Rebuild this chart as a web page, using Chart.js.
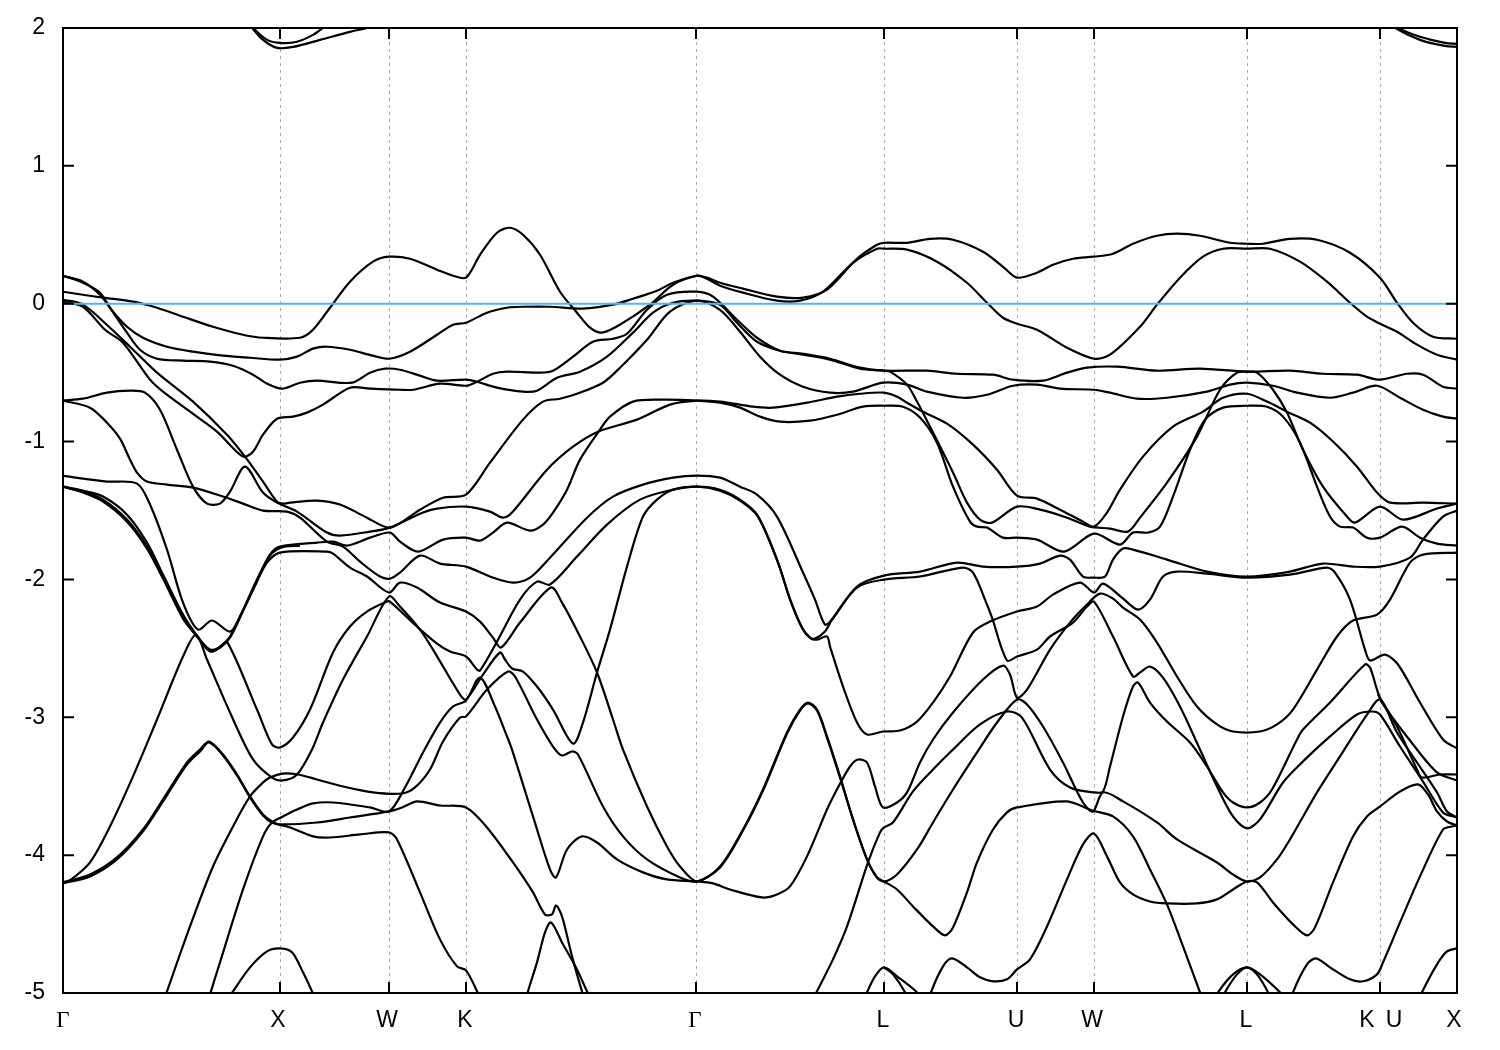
<!DOCTYPE html>
<html>
<head>
<meta charset="utf-8">
<title>Band structure</title>
<script src="https://cdn.jsdelivr.net/npm/chart.js@4"></script>
<style>
  html, body { margin: 0; padding: 0; background: #fff; }
  canvas { display: block; }
</style>
</head>
<body>
<canvas id="bands" width="1500" height="1050"></canvas>
<script>
// k-path in arbitrary distance units, energies in eV
const pathLength = 1394;
const symmetryPoints = [217, 326, 403, 633, 821, 954, 1031, 1184, 1317];
const labelPositions = [0, 215, 324, 402, 632, 820, 953, 1029, 1183, 1304, 1331, 1391];
const labelNames = ['Γ', 'X', 'W', 'K', 'Γ', 'L', 'U', 'W', 'L', 'K', 'U', 'X'];
const fermiLine = [[0, 0], [1394, 0]];

const band01 = [[0,.087],[20,.065],[40,.044],[70,.015],[94,-.029],[120,-.094],[150,-.167],[180,-.225],[200,-.247],[237,-.247],[250,-.189],[267,-.029],[287,.16],[310,.305],[326,.341],[347,.326],[374,.247],[390,.203],[403,.189],[417,.355],[434,.515],[447,.551],[460,.5],[477,.355],[497,.087],[514,-.065],[527,-.174],[539,-.21],[557,-.152],[587,-.007],[610,.138],[634,.203],[644,.189],[657,.152],[680,.109],[714,.051],[740,.044],[764,.102],[794,.326],[814,.428],[821,.442],[844,.442],[867,.471],[890,.464],[920,.377],[940,.268],[954,.189],[974,.225],[990,.283],[1010,.326],[1031,.341],[1050,.363],[1070,.435],[1094,.493],[1114,.508],[1137,.493],[1167,.442],[1184,.435],[1200,.435],[1227,.471],[1254,.464],[1287,.370],[1317,.189],[1334,.007],[1350,-.138],[1370,-.239],[1394,-.254]];
const band02 = [[0,.203],[20,.16],[37,.065],[50,-.058],[64,-.167],[80,-.247],[104,-.312],[130,-.348],[160,-.377],[187,-.392],[217,-.406],[234,-.384],[250,-.326],[264,-.312],[287,-.334],[310,-.377],[326,-.399],[347,-.348],[374,-.225],[390,-.152],[403,-.138],[424,-.065],[444,-.029],[460,-.022],[487,-.022],[520,-.036],[550,-.007],[570,.036],[594,.094],[610,.152],[634,.203],[644,.181],[657,.131],[680,.08],[714,.022],[737,.022],[760,.087],[790,.297],[814,.399],[821,.399],[844,.392],[874,.305],[904,.152],[924,.007],[940,-.102],[954,-.145],[974,-.189],[1004,-.319],[1031,-.399],[1047,-.37],[1077,-.167],[1094,-.007],[1117,.189],[1140,.341],[1160,.399],[1184,.399],[1207,.399],[1237,.305],[1264,.16],[1287,.007],[1304,-.094],[1317,-.145],[1334,-.203],[1354,-.297],[1374,-.37],[1394,-.406]];
const band03 = [[0,.203],[20,.152],[37,.08],[47,-.029],[64,-.21],[77,-.334],[94,-.399],[120,-.413],[147,-.42],[170,-.45],[190,-.515],[204,-.58],[219,-.616],[237,-.573],[254,-.558],[289,-.573],[307,-.5],[322,-.471],[337,-.479],[357,-.522],[374,-.558],[403,-.551],[414,-.566],[434,-.609],[460,-.638],[474,-.631],[494,-.537],[517,-.493],[544,-.384],[570,-.21],[590,-.065],[610,.007],[634,.022],[657,-.007],[674,-.138],[694,-.276],[717,-.341],[740,-.37],[767,-.406],[797,-.471],[821,-.486],[827,-.493],[844,-.587],[854,-.71],[870,-.935],[890,-1.225],[904,-1.443],[917,-1.566],[929,-1.588],[954,-1.472],[977,-1.494],[1004,-1.552],[1027,-1.617],[1047,-1.631],[1065,-1.653],[1077,-1.552],[1104,-1.298],[1134,-.964],[1157,-.624],[1174,-.5],[1184,-.493],[1194,-.5],[1210,-.624],[1224,-.79],[1240,-1.059],[1260,-1.327],[1284,-1.544],[1292,-1.588],[1317,-1.472],[1340,-1.566],[1374,-1.486],[1394,-1.45]];
const band04 = [[0,.015],[20,-.022],[42,-.189],[60,-.283],[87,-.551],[100,-.638],[127,-.783],[154,-.928],[180,-1.109],[190,-1.073],[200,-.95],[214,-.834],[230,-.819],[244,-.79],[260,-.732],[287,-.609],[307,-.616],[337,-.624],[350,-.624],[377,-.58],[403,-.595],[414,-.566],[430,-.508],[444,-.493],[477,-.5],[490,-.486],[510,-.384],[530,-.276],[550,-.254],[564,-.218],[584,-.044],[604,.065],[634,.087],[650,.051],[674,-.116],[694,-.247],[717,-.341],[740,-.363],[767,-.399],[797,-.464],[821,-.486],[864,-.486],[894,-.508],[930,-.515],[950,-.551],[980,-.558],[1004,-.5],[1024,-.464],[1054,-.457],[1094,-.486],[1137,-.471],[1184,-.493],[1227,-.486],[1260,-.508],[1294,-.515],[1317,-.551],[1344,-.508],[1360,-.515],[1380,-.602],[1394,-.616]];
const band05 = [[0,.029],[20,-.007],[47,-.174],[67,-.312],[94,-.5],[130,-.71],[164,-.95],[182,-1.109],[200,-1.29],[214,-1.436],[220,-1.45],[227,-1.443],[254,-1.428],[277,-1.457],[304,-1.552],[327,-1.624],[357,-1.494],[380,-1.407],[403,-1.385],[427,-1.153],[460,-.841],[480,-.71],[497,-.689],[514,-.653],[540,-.573],[557,-.464],[584,-.261],[607,-.058],[634,.022],[657,-.044],[677,-.203],[697,-.384],[717,-.515],[740,-.602],[767,-.645],[790,-.638],[820,-.573],[844,-.587],[864,-.638],[900,-.682],[924,-.66],[950,-.595],[974,-.587],[997,-.616],[1031,-.624],[1047,-.645],[1074,-.689],[1104,-.682],[1144,-.638],[1167,-.587],[1184,-.573],[1210,-.595],[1234,-.645],[1267,-.682],[1290,-.645],[1314,-.595],[1337,-.682],[1360,-.769],[1380,-.819],[1394,-.834]];
const band06 = [[0,-.703],[20,-.689],[44,-.645],[67,-.631],[82,-.645],[97,-.769],[114,-1.059],[130,-1.327],[144,-1.45],[157,-1.45],[167,-1.363],[182,-1.182],[200,-1.37],[214,-1.443],[234,-1.508],[264,-1.66],[277,-1.682],[307,-1.653],[327,-1.624],[357,-1.523],[374,-1.486],[403,-1.472],[427,-1.508],[440,-1.552],[449,-1.515],[484,-1.204],[510,-1.037],[535,-.928],[574,-.841],[607,-.732],[634,-.703],[657,-.71],[690,-.747],[710,-.754],[744,-.718],[774,-.674],[797,-.653],[821,-.645],[834,-.674],[844,-.718],[860,-.783],[884,-.87],[910,-1.022],[934,-1.204],[954,-1.392],[974,-1.414],[997,-1.494],[1020,-1.581],[1031,-1.617],[1044,-1.515],[1057,-1.349],[1080,-1.109],[1110,-.892],[1140,-.783],[1160,-.682],[1184,-.653],[1204,-.71],[1224,-.783],[1247,-.863],[1270,-1.0],[1294,-1.182],[1314,-1.37],[1327,-1.443],[1360,-1.443],[1394,-1.45]];
const band07 = [[0,-.703],[27,-.754],[44,-.863],[57,-.979],[67,-1.131],[74,-1.225],[84,-1.29],[104,-1.312],[130,-1.334],[160,-1.399],[180,-1.45],[200,-1.501],[224,-1.508],[237,-1.552],[264,-1.726],[280,-1.762],[297,-1.871],[317,-1.979],[327,-1.994],[337,-1.95],[357,-1.827],[377,-1.885],[403,-1.907],[427,-1.979],[450,-2.023],[467,-1.987],[487,-1.842],[524,-1.552],[550,-1.399],[580,-1.312],[610,-1.262],[634,-1.247],[657,-1.262],[677,-1.327],[694,-1.385],[714,-1.544],[740,-1.95],[752,-2.146],[762,-2.327],[769,-2.291],[794,-2.052],[821,-1.972],[857,-1.943],[894,-1.878],[920,-1.907],[954,-1.907],[977,-1.885],[997,-1.827],[1007,-1.856],[1020,-1.979],[1031,-1.987],[1042,-1.979],[1050,-1.856],[1060,-1.776],[1070,-1.784],[1104,-1.856],[1144,-1.943],[1184,-1.979],[1227,-1.943],[1260,-1.885],[1290,-1.907],[1317,-1.907],[1347,-1.842],[1360,-1.711],[1380,-1.544],[1394,-1.501]];
const band08 = [[0,-1.327],[20,-1.363],[40,-1.421],[64,-1.566],[84,-1.762],[100,-1.979],[120,-2.269],[134,-2.414],[147,-2.509],[157,-2.487],[167,-2.414],[177,-2.269],[194,-2.001],[207,-1.82],[217,-1.762],[254,-1.733],[270,-1.726],[284,-1.755],[307,-1.697],[327,-1.66],[337,-1.726],[355,-1.798],[380,-1.711],[403,-1.697],[417,-1.718],[430,-1.66],[444,-1.588],[467,-1.646],[480,-1.602],[490,-1.515],[504,-1.349],[517,-1.131],[537,-.913],[547,-.819],[570,-.71],[600,-.696],[634,-.703],[657,-.718],[677,-.754],[697,-.819],[717,-.856],[747,-.848],[774,-.805],[800,-.747],[821,-.74],[840,-.747],[857,-.826],[874,-1.008],[890,-1.327],[907,-1.581],[914,-1.617],[924,-1.624],[940,-1.697],[954,-1.697],[974,-1.711],[1001,-1.798],[1031,-1.668],[1057,-1.747],[1070,-1.66],[1085,-1.66],[1097,-1.617],[1110,-1.399],[1127,-1.059],[1142,-.841],[1160,-.754],[1184,-.74],[1204,-.747],[1220,-.819],[1237,-1.008],[1254,-1.327],[1267,-1.544],[1277,-1.617],[1290,-1.624],[1304,-1.697],[1317,-1.697],[1339,-1.617],[1357,-1.697],[1374,-1.74],[1394,-1.755]];
const band09 = [[0,-1.327],[20,-1.356],[40,-1.399],[64,-1.53],[84,-1.733],[100,-1.965],[120,-2.255],[134,-2.407],[147,-2.516],[157,-2.494],[164,-2.451],[194,-2.944],[209,-3.197],[217,-3.219],[230,-3.147],[247,-2.944],[270,-2.53],[287,-2.342],[304,-2.233],[324,-2.161],[327,-2.161],[354,-2.342],[374,-2.465],[387,-2.523],[403,-2.559],[414,-2.654],[417,-2.661],[434,-2.451],[457,-2.146],[474,-2.016],[487,-2.037],[514,-1.834],[544,-1.602],[577,-1.421],[610,-1.349],[634,-1.327],[657,-1.356],[677,-1.428],[695,-1.544],[715,-1.878],[728,-2.161],[740,-2.364],[748,-2.429],[754,-2.436],[764,-2.414],[767,-2.487],[780,-2.777],[794,-3.038],[804,-3.125],[820,-3.103],[837,-3.096],[854,-3.031],[870,-2.893],[887,-2.704],[910,-2.385],[927,-2.306],[954,-2.233],[974,-2.197],[990,-2.11],[1017,-2.023],[1031,-2.095],[1040,-2.03],[1059,-2.132],[1075,-2.219],[1087,-2.146],[1100,-1.979],[1114,-1.943],[1144,-1.958],[1184,-1.987],[1227,-1.965],[1264,-1.914],[1272,-1.95],[1287,-2.146],[1302,-2.509],[1307,-2.588],[1322,-2.545],[1335,-2.617],[1357,-2.893],[1380,-3.161],[1394,-3.226]];
const band10 = [[0,-1.327],[20,-1.37],[40,-1.436],[64,-1.581],[84,-1.776],[100,-1.994],[120,-2.284],[134,-2.414],[147,-2.523],[157,-2.494],[167,-2.422],[177,-2.277],[194,-2.008],[207,-1.827],[218,-1.769],[237,-1.755]];
const band11 = [[0,-4.198],[7,-4.183],[27,-4.053],[47,-3.792],[70,-3.429],[94,-3.016],[120,-2.559],[133,-2.4],[144,-2.581],[167,-2.965],[190,-3.306],[209,-3.437],[220,-3.458],[234,-3.415],[249,-3.234],[260,-3.038],[280,-2.726],[304,-2.414],[326,-2.124],[337,-2.197],[357,-2.364],[370,-2.509],[397,-2.835],[403,-2.871],[420,-2.69],[437,-2.53],[442,-2.581],[449,-2.646],[460,-2.668],[474,-2.777],[490,-2.944],[510,-3.19],[520,-3.038],[534,-2.675],[547,-2.364],[564,-1.907],[580,-1.544],[594,-1.421],[610,-1.349],[634,-1.327],[657,-1.349],[677,-1.421],[694,-1.53],[714,-1.856],[727,-2.146],[739,-2.349],[747,-2.422],[752,-2.429],[762,-2.378],[769,-2.291],[794,-2.059],[821,-2.001],[857,-1.979],[900,-1.914],[910,-1.95],[922,-2.146],[929,-2.277],[944,-2.588],[954,-2.559],[974,-2.509],[987,-2.414],[1010,-2.313],[1024,-2.197],[1031,-2.161],[1050,-2.414],[1070,-2.704],[1077,-2.675],[1087,-2.632],[1100,-2.712],[1117,-2.922],[1137,-3.234],[1154,-3.502],[1170,-3.719],[1184,-3.806],[1197,-3.741],[1220,-3.473],[1240,-3.32],[1267,-3.139],[1294,-2.98],[1309,-2.958],[1317,-2.98],[1337,-3.212],[1360,-3.466],[1380,-3.69],[1394,-3.727]];
const band12 = [[0,-1.247],[20,-1.269],[44,-1.29],[74,-1.305],[87,-1.457],[104,-1.784],[120,-2.168],[135,-2.364],[149,-2.298],[167,-2.378],[177,-2.269],[194,-2.016],[204,-1.878],[217,-1.805],[264,-1.798],[270,-1.813],[287,-1.914],[304,-1.979],[326,-2.095],[337,-2.023],[354,-2.059],[377,-2.168],[403,-2.233],[417,-2.306],[430,-2.422],[438,-2.494],[457,-2.313],[488,-2.059],[499,-2.168],[517,-2.414],[534,-2.675],[550,-3.016],[560,-3.234],[584,-3.647],[604,-3.937],[617,-4.082],[634,-4.191],[657,-4.082],[680,-3.814],[700,-3.524],[724,-3.11],[737,-2.944],[745,-2.893],[754,-2.944],[764,-3.139],[777,-3.429],[790,-3.741],[804,-4.031],[814,-4.162],[821,-4.191],[834,-4.249],[850,-4.372],[870,-4.517],[882,-4.582],[890,-4.524],[904,-4.27],[914,-4.053],[930,-3.814],[944,-3.69],[954,-3.654],[1004,-3.61],[1029,-3.676],[1050,-3.719],[1070,-3.864],[1087,-4.104],[1104,-4.357],[1120,-4.662],[1137,-4.995],[1145,-5.155]];
const band13 = [[97,-5.133],[104,-4.988],[127,-4.517],[150,-4.082],[170,-3.792],[187,-3.574],[200,-3.473],[207,-3.437],[220,-3.408],[235,-3.415],[254,-3.451],[280,-3.502],[310,-3.545],[339,-3.553],[352,-3.509],[367,-3.379],[380,-3.176],[397,-3.002],[403,-2.994],[424,-2.799],[445,-2.668],[452,-2.704],[474,-3.016],[490,-3.212],[499,-3.277],[509,-3.248],[515,-3.27],[540,-3.647],[560,-3.864],[584,-4.031],[617,-4.162],[634,-4.191],[657,-4.089],[680,-3.821],[700,-3.531],[724,-3.118],[737,-2.951],[745,-2.9],[754,-2.951],[764,-3.147],[777,-3.437],[790,-3.741],[804,-4.031],[814,-4.162],[821,-4.191],[834,-4.14],[854,-3.959],[870,-3.763],[890,-3.524],[914,-3.255],[934,-3.038],[954,-2.871],[964,-2.907],[980,-3.067],[1000,-3.328],[1020,-3.618],[1030,-3.683],[1040,-3.545],[1060,-3.61],[1094,-3.763],[1114,-3.886],[1154,-4.053],[1170,-4.14],[1184,-4.191],[1197,-4.162],[1214,-4.031],[1227,-3.886],[1254,-3.545],[1277,-3.284],[1304,-2.98],[1317,-2.871],[1334,-3.11],[1354,-3.328],[1374,-3.545],[1384,-3.683],[1394,-3.727]];
const band14 = [[142,-5.155],[148,-4.988],[157,-4.778],[180,-4.249],[200,-3.864],[209,-3.763],[220,-3.719],[234,-3.669],[250,-3.625],[270,-3.618],[307,-3.654],[326,-3.683],[342,-3.509],[360,-3.255],[377,-3.038],[390,-2.922],[403,-2.878],[417,-2.712],[432,-2.922],[444,-3.139],[449,-3.234],[470,-3.719],[487,-4.104],[493,-4.162],[504,-3.959],[519,-3.864],[534,-3.908],[554,-4.031],[580,-4.125],[604,-4.176],[634,-4.191],[650,-4.205],[667,-4.249],[699,-4.307],[714,-4.285],[727,-4.227],[744,-4.009],[764,-3.669],[775,-3.509],[787,-3.357],[795,-3.306],[804,-3.328],[812,-3.502],[820,-3.654],[834,-3.618],[844,-3.545],[857,-3.328],[870,-3.161],[890,-2.965],[920,-2.726],[940,-2.625],[947,-2.69],[954,-2.857],[964,-2.799],[987,-2.509],[1007,-2.313],[1024,-2.182],[1037,-2.103],[1050,-2.139],[1060,-2.204],[1077,-2.291],[1094,-2.458],[1114,-2.704],[1134,-2.922],[1154,-3.052],[1170,-3.103],[1197,-3.103],[1214,-3.052],[1230,-2.944],[1254,-2.654],[1274,-2.414],[1290,-2.298],[1314,-2.255],[1327,-2.146],[1347,-1.878],[1360,-1.82],[1394,-1.805]];
const band15 = [[0,-4.198],[27,-4.14],[54,-4.016],[80,-3.814],[100,-3.596],[124,-3.328],[137,-3.234],[146,-3.176],[160,-3.27],[174,-3.415],[187,-3.574],[200,-3.705],[209,-3.755],[217,-3.777],[254,-3.763],[287,-3.727],[326,-3.683],[339,-3.654],[354,-3.61],[377,-3.64],[403,-3.654],[424,-3.799],[450,-4.053],[470,-4.27],[482,-4.43],[489,-4.43],[493,-4.365],[499,-4.444],[509,-4.734],[519,-4.988],[527,-5.155]];
const band16 = [[0,-4.205],[27,-4.154],[54,-4.031],[80,-3.828],[100,-3.61],[124,-3.342],[137,-3.248],[146,-3.183],[160,-3.277],[174,-3.422],[187,-3.581],[200,-3.712],[209,-3.763],[227,-3.799],[250,-3.864],[267,-3.872],[297,-3.85],[326,-3.835],[334,-3.886],[357,-4.27],[377,-4.611],[394,-4.807],[403,-4.836],[414,-4.988],[424,-5.155]];
const band17 = [[159,-5.104],[170,-4.988],[187,-4.814],[204,-4.698],[217,-4.676],[229,-4.705],[240,-4.85],[249,-4.988],[257,-5.133]];
const band18 = [[459,-5.155],[465,-4.988],[474,-4.778],[482,-4.56],[488,-4.488],[500,-4.647],[514,-4.829],[524,-4.988],[534,-5.133]];
const band19 = [[743,-5.155],[754,-4.988],[770,-4.756],[784,-4.517],[805,-4.053],[817,-3.835],[821,-3.799],[830,-3.763],[850,-3.538],[870,-3.379],[890,-3.234],[917,-3.052],[944,-2.958],[959,-3.002],[987,-3.379],[1007,-3.509],[1031,-3.545],[1040,-3.538],[1047,-3.357],[1060,-2.994],[1070,-2.777],[1075,-2.748],[1087,-2.893],[1104,-3.031],[1127,-3.183],[1144,-3.357],[1160,-3.545],[1170,-3.618],[1184,-3.654],[1197,-3.618],[1209,-3.524],[1234,-3.161],[1240,-3.089],[1267,-2.893],[1302,-2.617],[1307,-2.639],[1314,-2.799],[1319,-2.893],[1347,-3.168],[1374,-3.4],[1394,-3.458]];
const band20 = [[862,-5.155],[868,-4.995],[880,-4.807],[889,-4.749],[904,-4.814],[917,-4.886],[930,-4.915],[944,-4.901],[954,-4.829],[967,-4.756],[984,-4.517],[1004,-4.176],[1020,-3.922],[1031,-3.843],[1044,-4.009],[1057,-4.198],[1070,-4.285],[1087,-4.336],[1104,-4.35],[1134,-4.35],[1154,-4.321],[1170,-4.249],[1184,-4.191],[1194,-4.198],[1210,-4.343],[1230,-4.502],[1244,-4.582],[1252,-4.524],[1270,-4.198],[1290,-3.864],[1304,-3.719],[1317,-3.647],[1337,-3.538],[1355,-3.487],[1365,-3.56],[1374,-3.683],[1384,-3.756],[1394,-3.785]];
const band21 = [[1224,-5.155],[1230,-4.995],[1244,-4.792],[1253,-4.749],[1267,-4.814],[1287,-4.901],[1300,-4.915],[1314,-4.865],[1320,-4.778],[1337,-4.488],[1357,-4.154],[1380,-3.814],[1389,-3.792],[1394,-3.785]];
const band22 = [[1315,-2.835],[1334,-3.067],[1354,-3.379],[1359,-3.437],[1377,-3.415],[1394,-3.415]];
const band23 = [[797,-5.119],[804,-4.995],[812,-4.879],[821,-4.814],[834,-4.879],[854,-4.995],[862,-5.082]];
const band24 = [[821,-4.814],[830,-4.865],[842,-4.995],[849,-5.119]];
const band25 = [[1149,-5.082],[1155,-4.995],[1170,-4.865],[1184,-4.814],[1197,-4.865],[1217,-4.995],[1227,-5.082]];
const band26 = [[1157,-5.082],[1162,-4.995],[1174,-4.865],[1184,-4.814],[1194,-4.865],[1205,-4.995],[1212,-5.119]];
const band27 = [[1352,-5.119],[1359,-4.995],[1374,-4.792],[1384,-4.698],[1394,-4.676]];
const band28 = [[182,2.059],[189,2.001],[200,1.914],[214,1.856],[230,1.863],[257,1.914],[287,1.972],[304,2.001],[317,2.03]];
const band29 = [[184,2.059],[190,2.001],[204,1.914],[217,1.892],[234,1.9],[250,1.95],[260,2.001],[270,2.059]];
const band30 = [[1325,2.059],[1332,2.001],[1357,1.914],[1382,1.87],[1394,1.863]];
const band31 = [[1328,2.059],[1335,2.001],[1357,1.936],[1382,1.892],[1394,1.885]];

const allBands = [band01, band02, band03, band04, band05, band06, band07, band08, band09, band10,
    band11, band12, band13, band14, band15, band16, band17, band18, band19, band20,
    band21, band22, band23, band24, band25, band26, band27, band28, band29, band30, band31];

// gnuplot style frame with inward ticks
const framePlugin = {
    id: 'frame',
    afterDatasetsDraw(chart) {
        const { ctx, chartArea: a, scales } = chart;
        ctx.save();
        ctx.strokeStyle = '#000';
        ctx.lineWidth = 2;
        ctx.beginPath();
        scales.y.ticks.forEach(t => {
            const py = scales.y.getPixelForValue(t.value);
            ctx.moveTo(a.left, py); ctx.lineTo(a.left + 11, py);
            ctx.moveTo(a.right, py); ctx.lineTo(a.right - 11, py);
        });
        symmetryPoints.forEach(v => {
            const px = scales.marks.getPixelForValue(v);
            ctx.moveTo(px, a.bottom); ctx.lineTo(px, a.bottom - 11);
            ctx.moveTo(px, a.top); ctx.lineTo(px, a.top + 11);
        });
        ctx.stroke();
        ctx.strokeRect(a.left, a.top, a.right - a.left, a.bottom - a.top);
        ctx.restore();
    }
};

const datasets = [{
    data: fermiLine,
    borderColor: '#56b4e9',
    borderWidth: 2,
    pointRadius: 0,
    tension: 0
}];
allBands.forEach(b => datasets.push({
    data: b,
    borderColor: '#000',
    borderWidth: 2.2,
    pointRadius: 0,
    tension: 0.3
}));

new Chart(document.getElementById('bands').getContext('2d'), {
    type: 'line',
    data: { datasets: datasets },
    plugins: [framePlugin],
    options: {
        responsive: false,
        animation: false,
        events: [],
        layout: { padding: { left: 0, right: 43, top: 28, bottom: 0 } },
        plugins: { legend: { display: false }, tooltip: { enabled: false } },
        scales: {
            x: {
                type: 'linear',
                min: 0,
                max: pathLength,
                grid: { display: false, drawTicks: false },
                border: { display: false },
                afterBuildTicks: s => { s.ticks = labelPositions.map(v => ({ value: v })); },
                afterFit: s => { s.height = 57; },
                ticks: {
                    autoSkip: false,
                    maxRotation: 0,
                    padding: 14,
                    color: '#000',
                    font: c => ({
                        size: 23,
                        family: labelNames[c.index] === 'Γ' ? '"Liberation Serif"' : '"Liberation Sans"'
                    }),
                    callback: (v, i) => labelNames[i]
                }
            },
            marks: {
                type: 'linear',
                position: 'top',
                min: 0,
                max: pathLength,
                grid: { color: '#aaa', lineWidth: 1, drawTicks: false },
                border: { display: false, dash: [3, 4] },
                afterBuildTicks: s => { s.ticks = symmetryPoints.map(v => ({ value: v })); },
                afterFit: s => { s.height = 0; },
                ticks: { display: false }
            },
            y: {
                min: -5,
                max: 2,
                grid: { display: false, drawTicks: false },
                border: { display: false },
                // tick padding would otherwise push the plot area down
                afterFit: s => { s.width = 63; s.paddingTop = 0; s.paddingBottom = 0; },
                ticks: {
                    stepSize: 1,
                    padding: 18,
                    color: '#000',
                    font: { size: 23, family: '"Liberation Sans"' }
                }
            }
        }
    }
});
</script>
</body>
</html>
